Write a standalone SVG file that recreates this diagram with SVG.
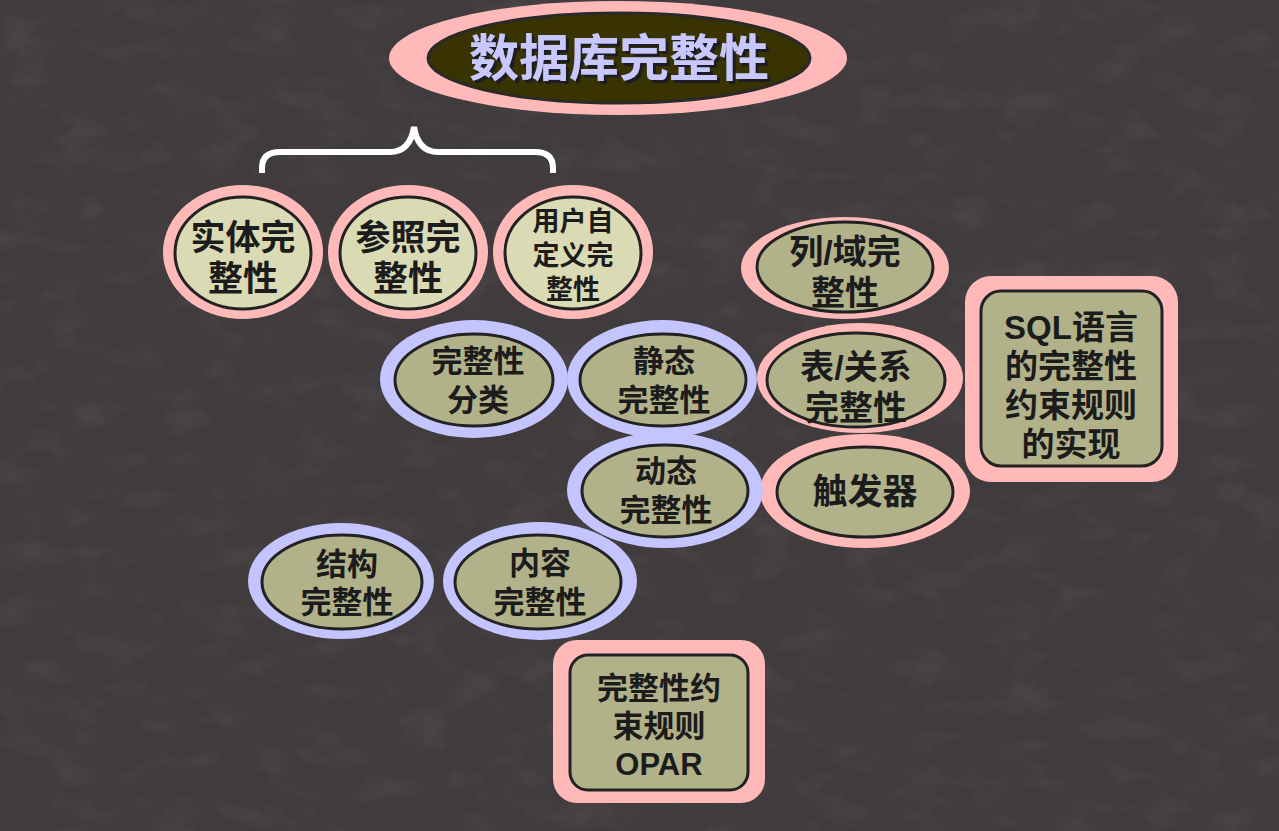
<svg xmlns="http://www.w3.org/2000/svg" width="1279" height="831" viewBox="0 0 1279 831">
  <defs>
    <filter id="marble" x="0" y="0" width="100%" height="100%">
      <feTurbulence type="fractalNoise" baseFrequency="0.02 0.035" numOctaves="5" seed="11" result="n"/>
      <feColorMatrix in="n" type="matrix" values="0 0 0 0 0.30  0 0 0 0 0.26  0 0 0 0 0.26  0 0 0 -1.6 0.85"/>
    </filter>
    <filter id="shade" x="-10%" y="-10%" width="130%" height="140%">
      <feDropShadow dx="3" dy="3" stdDeviation="0.6" flood-color="#1a1a22" flood-opacity="1"/>
    </filter>
  </defs>
  <style>
    .pink { fill: #ffb9b9; }
    .lav { fill: #c4c4ff; }
    .light { fill: #dadab4; stroke: #222; stroke-width: 3; }
    .olive { fill: #b2b28a; stroke: #222; stroke-width: 3; }
    .lbl { font-family: "Liberation Sans", "Noto Sans CJK SC", sans-serif; font-weight: bold; fill: #1c1c1c; text-anchor: middle; }
    .s35 { font-size: 35px; }
    .s34 { font-size: 34px; }
    .s33 { font-size: 33px; }
    .s31 { font-size: 31px; }
    .s27 { font-size: 27px; }
    .title { font-family: "Liberation Sans", "Noto Sans CJK SC", sans-serif; font-weight: bold; font-size: 50px; fill: #c8c8ff; text-anchor: middle; }
  </style>

  <!-- background -->
  <rect width="1279" height="831" fill="#403b3d"/>
  <rect width="1279" height="831" filter="url(#marble)" opacity="0.18"/>

  <!-- title -->
  <g id="title">
    <ellipse cx="618" cy="58" rx="229" ry="57" class="pink"/>
    <ellipse cx="619" cy="58" rx="191" ry="45" fill="#383300" stroke="#2a2a2a" stroke-width="3"/>
    <text x="619" y="76" class="title" filter="url(#shade)">数据库完整性</text>
  </g>

  <!-- connectors -->
  <g id="connectors" fill="none" stroke="#ffffff" stroke-width="6" stroke-linecap="butt">
    <path d="M262,173 L262,168 Q262,152 280,152 L390,152 Q410,152 414,127 Q418,152 438,152 L535,152 Q553,152 553,168 L553,173"/>
  </g>

  <!-- top row -->
  <g id="n-entity">
    <ellipse cx="243" cy="252" rx="80" ry="67" class="pink"/>
    <ellipse cx="243" cy="253" rx="68" ry="56" class="light"/>
    <text class="lbl s35" x="243" y="250">实体完<tspan x="243" dy="41">整性</tspan></text>
  </g>
  <g id="n-ref">
    <ellipse cx="408" cy="252" rx="80" ry="67" class="pink"/>
    <ellipse cx="408" cy="253" rx="68" ry="56" class="light"/>
    <text class="lbl s35" x="408" y="250">参照完<tspan x="408" dy="41">整性</tspan></text>
  </g>
  <g id="n-user">
    <ellipse cx="573" cy="252" rx="80" ry="67" class="pink"/>
    <ellipse cx="573" cy="253" rx="68" ry="56" class="light"/>
    <text class="lbl s27" x="573" y="231">用户自<tspan x="573" dy="34">定义完</tspan><tspan x="573" dy="34">整性</tspan></text>
  </g>

  <!-- right column -->
  <g id="n-column">
    <ellipse cx="845" cy="268" rx="104" ry="51" class="pink"/>
    <ellipse cx="845" cy="267" rx="88" ry="45" class="olive"/>
    <text class="lbl s34" x="845" y="264">列/域完<tspan x="845" dy="41">整性</tspan></text>
  </g>
  <g id="n-table">
    <ellipse cx="860" cy="378" rx="103" ry="55" class="pink"/>
    <ellipse cx="856" cy="380" rx="89" ry="47" class="olive"/>
    <text class="lbl s34" x="856" y="379">表/关系<tspan x="856" dy="41">完整性</tspan></text>
  </g>
  <g id="n-trigger">
    <ellipse cx="865" cy="491" rx="105" ry="57" class="pink"/>
    <ellipse cx="865" cy="492" rx="88" ry="45" class="olive"/>
    <text class="lbl s35" x="865" y="504">触发器</text>
  </g>
  <g id="n-sql">
    <rect x="965" y="276" width="213" height="206" rx="26" class="pink"/>
    <rect x="981" y="291" width="181" height="175" rx="20" class="olive"/>
    <text class="lbl s33" x="1071" y="339">SQL语言<tspan x="1071" dy="39">的完整性</tspan><tspan x="1071" dy="39">约束规则</tspan><tspan x="1071" dy="39">的实现</tspan></text>
  </g>

  <!-- classification -->
  <g id="n-class">
    <ellipse cx="474" cy="379" rx="94" ry="59" class="lav"/>
    <ellipse cx="474" cy="380" rx="79" ry="46" class="olive"/>
    <text class="lbl s31" x="478" y="372">完整性<tspan x="478" dy="39">分类</tspan></text>
  </g>
  <g id="n-static">
    <ellipse cx="662" cy="379" rx="95" ry="59" class="lav"/>
    <ellipse cx="663" cy="380" rx="83" ry="46" class="olive"/>
    <text class="lbl s31" x="664" y="372">静态<tspan x="664" dy="39">完整性</tspan></text>
  </g>
  <g id="n-dynamic">
    <ellipse cx="665" cy="490" rx="98" ry="58" class="lav"/>
    <ellipse cx="665" cy="491" rx="83" ry="46" class="olive"/>
    <text class="lbl s31" x="666" y="482">动态<tspan x="666" dy="39">完整性</tspan></text>
  </g>
  <g id="n-struct">
    <ellipse cx="341" cy="581" rx="93" ry="58" class="lav"/>
    <ellipse cx="342" cy="582" rx="80" ry="47" class="olive"/>
    <text class="lbl s31" x="347" y="575">结构<tspan x="347" dy="38">完整性</tspan></text>
  </g>
  <g id="n-content">
    <ellipse cx="540" cy="581" rx="97" ry="59" class="lav"/>
    <ellipse cx="538" cy="582" rx="83" ry="47" class="olive"/>
    <text class="lbl s31" x="540" y="574">内容<tspan x="540" dy="39">完整性</tspan></text>
  </g>

  <g id="n-opar">
    <rect x="553" y="640" width="212" height="163" rx="24" class="pink"/>
    <rect x="570" y="655" width="178" height="135" rx="18" class="olive"/>
    <text class="lbl s31" x="659" y="699">完整性约<tspan x="659" dy="38">束规则</tspan><tspan x="659" dy="38">OPAR</tspan></text>
  </g>
</svg>
